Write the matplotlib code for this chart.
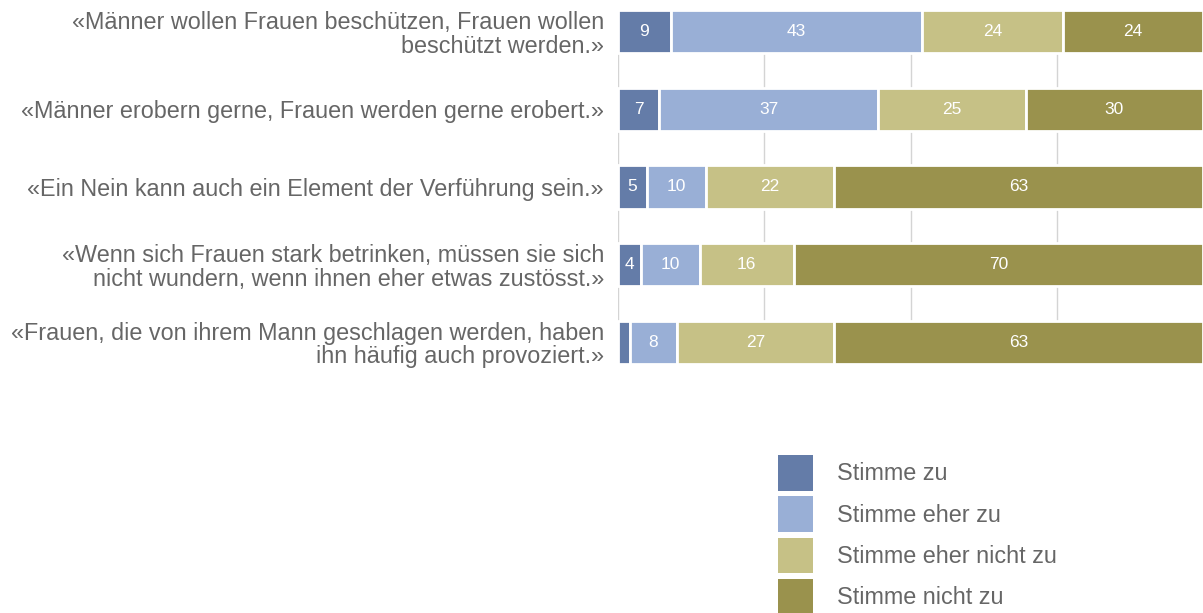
import numpy as np
import matplotlib
matplotlib.use('Agg')
import matplotlib.pyplot as plt
from matplotlib.patches import Patch

plt.rcParams['font.family'] = ['Liberation Sans', 'DejaVu Sans']

statements = [
    "«Männer wollen Frauen beschützen, Frauen wollen\nbeschützt werden.»",
    "«Männer erobern gerne, Frauen werden gerne erobert.»",
    "«Ein Nein kann auch ein Element der Verführung sein.»",
    "«Wenn sich Frauen stark betrinken, müssen sie sich\nnicht wundern, wenn ihnen eher etwas zustösst.»",
    "«Frauen, die von ihrem Mann geschlagen werden, haben\nihn häufig auch provoziert.»",
]
categories = ["Stimme zu", "Stimme eher zu", "Stimme eher nicht zu", "Stimme nicht zu"]
stimme_zu       = [9, 7, 5, 4, 2]
stimme_eher_zu  = [43, 37, 10, 10, 8]
eher_nicht_zu   = [24, 25, 22, 16, 27]
nicht_zu        = [24, 30, 63, 70, 63]
colors = ['#647ca8', '#99afd6', '#c6c186', '#9a924d']

series = [stimme_zu, stimme_eher_zu, eher_nicht_zu, nicht_zu]
TXT = '#666666'
FS = 16.8

# bars are stacked to 100 % of each row (row 2 only adds up to 99)
totals = np.sum(np.array(series, dtype=float), axis=0)

fig = plt.figure(figsize=(12.03, 6.13), dpi=100)
ax = fig.add_axes([618 / 1203, 1 - 364 / 613, 1 - 618 / 1203, 354 / 613])

y = np.arange(len(statements))
left = np.zeros(len(statements))
for vals, col in zip(series, colors):
    vals = np.array(vals, dtype=float)
    widths = vals / totals * 100
    ax.barh(y, widths, left=left, height=0.56, color=col,
            edgecolor='white', linewidth=2, zorder=3)
    # value labels, skip the tiny ones
    for yi, (l, w, v) in enumerate(zip(left, widths, vals)):
        if v >= 4:
            ax.text(l + w / 2, yi, f"{int(v)}", ha='center', va='center',
                    color='white', fontsize=12.5, zorder=4)
    left += widths

ax.set_xlim(0, 100)
ax.set_ylim(len(statements) - 1 + 0.28, -0.28)
ax.set_xticks([0, 25, 50, 75])
ax.grid(axis='x', color='#d4d4d4', linewidth=1, zorder=0)
ax.set_yticks(y)
ax.set_yticklabels(statements, fontsize=FS, color=TXT, linespacing=1.03)
ax.tick_params(axis='y', length=0, pad=10)
ax.tick_params(axis='x', length=0, labelbottom=False)
for s in ax.spines.values():
    s.set_visible(False)

handles = [Patch(facecolor=c, edgecolor='none') for c in colors]
fig.legend(handles, categories, loc='upper left',
           bbox_to_anchor=(778 / 1203, 1 - 455 / 613), frameon=False,
           fontsize=FS, labelcolor=TXT, handlelength=1.48, handleheight=1.98,
           handletextpad=1.05, labelspacing=0.24, borderpad=0, borderaxespad=0)

fig.savefig('out.png', dpi=100, facecolor='white')
